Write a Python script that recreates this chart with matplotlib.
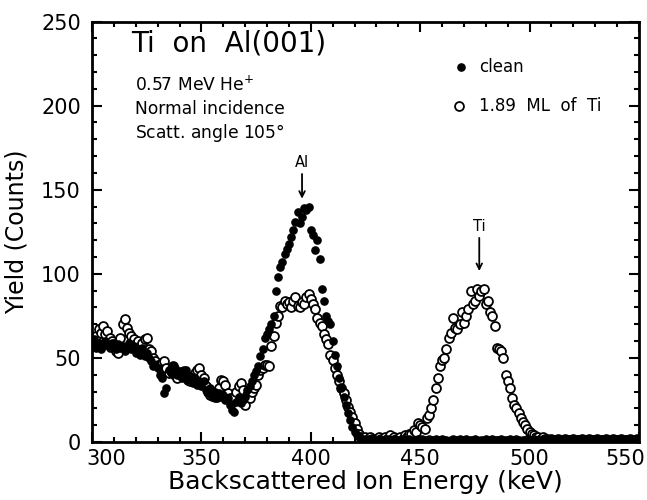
import numpy as np
import matplotlib
matplotlib.use("Agg")
import matplotlib.pyplot as plt
import matplotlib.transforms as mtrans

plt.rcParams['font.family'] = ['DejaVu Sans']

# channel energies (keV), 1 keV per channel
energy = np.arange(300, 551, 1)

# clean Al(001) spectrum
clean = [
    58, 61, 56, 59, 55, 57, 60, 58, 56, 59,
    57, 55, 58, 56, 57, 54, 56, 59, 55, 57,
    53, 55, 52, 56, 51, 53, 50, 48, 45, 46,
    44, 40, 38, 29, 32, 43, 41, 45, 44, 40,
    42, 38, 40, 43, 37, 39, 35, 38, 34, 36,
    33, 36, 31, 29, 32, 27, 30, 26, 29, 27,
    28, 25, 26, 22, 19, 18, 24, 27, 23, 25,
    27, 31, 33, 36, 40, 42, 45, 51, 55, 62,
    64, 67, 70, 75, 90, 98, 104, 107, 112, 115,
    118, 122, 126, 131, 137, 130, 134, 139, 138, 140,
    126, 123, 114, 120, 109, 91, 84, 75, 72, 70,
    60, 52, 45, 38, 32, 27, 22, 17, 13, 9,
    6, 4, 3, 2, 2, 1, 2, 1, 1, 2,
    1, 2, 1, 1, 0, 2, 1, 1, 2, 1,
    1, 1, 2, 1, 1, 2, 1, 0, 1, 2,
    1, 2, 1, 1, 2, 1, 1, 2, 1, 1,
    2, 1, 1, 0, 1, 2, 1, 1, 2, 1,
    1, 2, 1, 1, 1, 2, 1, 0, 1, 1,
    2, 1, 1, 2, 1, 1, 1, 2, 1, 1,
    1, 2, 1, 1, 2, 1, 0, 1, 1, 2,
    1, 1, 2, 1, 1, 1, 2, 1, 1, 1,
    2, 1, 1, 1, 2, 1, 1, 2, 1, 1,
    1, 1, 2, 1, 1, 2, 1, 1, 1, 2,
    1, 2, 1, 1, 1, 2, 1, 1, 2, 1,
    1, 1, 2, 1, 1, 2, 1, 1, 1, 2,
    1,
]

# after 1.89 ML of Ti
ti = [
    66, 68, 63, 67, 65, 69, 64, 66, 62, 60,
    58, 54, 53, 62, 70, 73, 68, 65, 63, 61,
    58, 60, 56, 59, 61, 62, 55, 54, 50, 48,
    46, 44, 47, 48, 44, 41, 43, 45, 40, 38,
    41, 39, 42, 40, 37, 36, 39, 41, 43, 44,
    40, 38, 33, 30, 28, 29, 27, 30, 32, 37,
    36, 34, 29, 26, 24, 27, 30, 33, 35, 31,
    22, 28, 26, 30, 32, 34, 40, 43, 44, 46,
    46, 45, 57, 63, 71, 75, 81, 80, 84, 82,
    83, 80, 84, 86, 81, 80, 83, 82, 86, 88,
    85, 82, 79, 74, 71, 69, 64, 61, 58, 52,
    49, 44, 40, 36, 32, 29, 25, 21, 18, 15,
    11, 8, 5, 3, 2, 3, 2, 3, 2, 1,
    2, 3, 2, 1, 3, 2, 4, 2, 3, 2,
    2, 3, 2, 4, 3, 5, 5, 7, 6, 11,
    10, 9, 8, 14, 16, 20, 25, 32, 38, 45,
    49, 50, 55, 62, 65, 74, 68, 67, 70, 77,
    71, 75, 79, 90, 82, 84, 91, 87, 90, 91,
    82, 84, 77, 75, 69, 56, 55, 54, 50, 40,
    36, 32, 26, 22, 20, 17, 14, 12, 10, 8,
    6, 5, 4, 3, 3, 2, 3, 2, 2, 1,
    2, 1, 1, 2, 1, 1, 2, 1, 1, 1,
    2, 1, 1, 1, 2, 1, 1, 2, 1, 1,
    1, 2, 1, 1, 1, 2, 1, 1, 2, 1,
    1, 1, 2, 1, 1, 1, 2, 1, 1, 2,
    1,
]

fig = plt.figure(figsize=(6.47, 5.0), dpi=100)
ax = fig.add_axes([0.1422, 0.116, 0.8454, 0.841])

ax.plot(energy, ti, 'o', mfc='white', mec='black', ms=6.4, mew=1.3, zorder=2)
ax.plot(energy, clean, 'o', color='black', ms=5.2, zorder=3)

ax.set_xlim(300, 550)
ax.set_ylim(0, 250)
ax.set_xticks(np.arange(300, 551, 50))
ax.set_xticks(np.arange(300, 551, 10), minor=True)
ax.set_yticks(np.arange(0, 251, 50))
ax.set_yticks(np.arange(0, 251, 10), minor=True)

for s in ax.spines.values():
    s.set_linewidth(2.0)
ax.tick_params(which='both', direction='in', top=True, right=True, width=1.5,
               labelsize=15)
ax.tick_params(which='major', length=7)
ax.tick_params(which='minor', length=3.5)
ax.tick_params(axis='y', pad=8)
ax.tick_params(axis='x', pad=5)

ax.set_xlabel('Backscattered Ion Energy (keV)', fontsize=18, labelpad=1)
ax.set_ylabel('Yield (Counts)', fontsize=17, labelpad=9)

# nudge the end labels inside, as in the original
xl = ax.get_xticklabels()
xl[0].set_transform(xl[0].get_transform() +
                    mtrans.ScaledTranslation(10 / 72, 0, fig.dpi_scale_trans))
xl[-1].set_transform(xl[-1].get_transform() +
                     mtrans.ScaledTranslation(-10 / 72, 0, fig.dpi_scale_trans))

ax.text(318, 237, 'Ti  on  Al(001)', fontsize=20, va='center')
ax.text(319.5, 212, '0.57 MeV He$^{+}$', fontsize=12.3, va='center')
ax.text(319.5, 198, 'Normal incidence', fontsize=12.3, va='center')
ax.text(319.5, 184, 'Scatt. angle 105$\\degree$', fontsize=12.3, va='center')

# legend drawn by hand
ax.plot([468.5], [223], 'o', color='black', ms=5.2)
ax.text(477, 223, 'clean', fontsize=12, va='center')
ax.plot([467.7], [200], 'o', mfc='white', mec='black', ms=6.4, mew=1.3)
ax.text(477, 200, '1.89  ML  of  Ti', fontsize=12, va='center')

# peak markers
ax.text(396, 166, 'Al', fontsize=10.5, ha='center', va='center')
ax.annotate('', xy=(396, 143), xytext=(396, 161),
            arrowprops=dict(arrowstyle='->', lw=1.3, color='black'))
ax.text(477, 128, 'Ti', fontsize=10.5, ha='center', va='center')
ax.annotate('', xy=(477, 100), xytext=(477, 123),
            arrowprops=dict(arrowstyle='->', lw=1.3, color='black'))

fig.savefig('out.png', dpi=100)
